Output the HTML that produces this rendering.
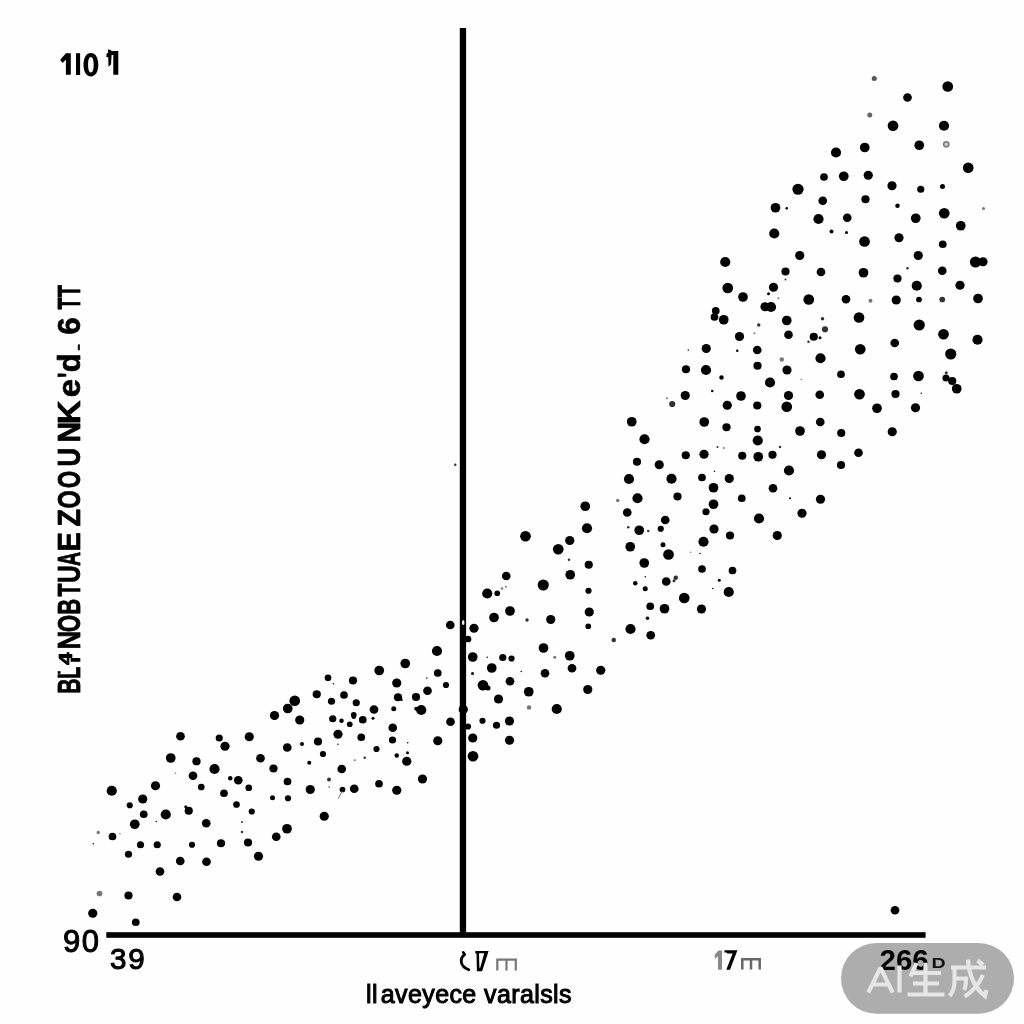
<!DOCTYPE html>
<html><head><meta charset="utf-8"><title>scatter</title>
<style>
html,body{margin:0;padding:0;background:#fefefe;}
body{width:1024px;height:1024px;position:relative;overflow:hidden;font-family:"Liberation Sans",sans-serif;color:#000;}
svg{position:absolute;left:0;top:0;will-change:transform;}
.t{position:absolute;white-space:nowrap;line-height:1;will-change:transform;}
</style></head><body>
<svg width="1024" height="1024" viewBox="0 0 1024 1024">
<rect x="459.8" y="28" width="6.3" height="908" fill="#000"/>
<rect x="106.3" y="932.2" width="819.3" height="5.6" fill="#000"/>
<g fill="#000">
<circle cx="111.75" cy="790.75" r="5.1"/>
<circle cx="155.5" cy="785.75" r="4.6"/>
<circle cx="193.0" cy="775.75" r="4.35"/>
<circle cx="214.5" cy="769.0" r="5.1"/>
<circle cx="201.25" cy="787.0" r="3.35"/>
<circle cx="230.25" cy="778.25" r="2.25"/>
<circle cx="238.25" cy="780.25" r="4.35"/>
<circle cx="248.75" cy="787.75" r="3.35"/>
<circle cx="224.0" cy="793.25" r="3.85"/>
<circle cx="142.75" cy="799.0" r="4.6"/>
<circle cx="129.75" cy="805.25" r="3.1"/>
<circle cx="236.5" cy="804.5" r="3.35"/>
<circle cx="251.75" cy="811.5" r="3.1"/>
<circle cx="143.75" cy="814.25" r="3.85"/>
<circle cx="165.75" cy="814.5" r="5.1"/>
<circle cx="188.75" cy="810.75" r="4.1"/>
<circle cx="185.75" cy="806.75" r="1.5"/>
<circle cx="134.75" cy="824.25" r="4.85"/>
<circle cx="206.25" cy="823.25" r="4.35"/>
<circle cx="112.5" cy="836.5" r="3.85"/>
<circle cx="98.25" cy="832.5" r="1.75" fill="#777"/>
<circle cx="140.5" cy="844.75" r="3.6"/>
<circle cx="157.25" cy="844.75" r="3.6"/>
<circle cx="192.0" cy="844.75" r="3.1"/>
<circle cx="221.0" cy="843.25" r="4.1"/>
<circle cx="248.0" cy="842.5" r="4.1"/>
<circle cx="128.5" cy="854.25" r="3.6"/>
<circle cx="180.25" cy="861.0" r="4.35"/>
<circle cx="206.5" cy="861.75" r="4.35"/>
<circle cx="160.0" cy="871.5" r="4.35"/>
<circle cx="99.5" cy="893.5" r="2.85" fill="#777"/>
<circle cx="128.5" cy="895.5" r="4.1"/>
<circle cx="177.0" cy="897.0" r="4.35"/>
<circle cx="92.75" cy="913.25" r="4.6"/>
<circle cx="135.75" cy="922.25" r="3.85"/>
<circle cx="242.0" cy="822.0" r="1.0" fill="#333"/>
<circle cx="242.0" cy="832.0" r="1.25" fill="#333"/>
<circle cx="93.25" cy="843.75" r="0.75"/>
<circle cx="156.25" cy="821.5" r="0.75"/>
<circle cx="175.5" cy="773.25" r="0.75" fill="#777"/>
<circle cx="120.0" cy="833.75" r="0.75" fill="#777"/>
<circle cx="273.5" cy="768.5" r="4.1"/>
<circle cx="341.75" cy="769.0" r="4.35"/>
<circle cx="287.5" cy="781.5" r="3.85"/>
<circle cx="310.25" cy="789.5" r="4.6"/>
<circle cx="329.0" cy="779.5" r="2.0" fill="#333"/>
<circle cx="342.5" cy="789.5" r="2.85"/>
<circle cx="354.25" cy="788.75" r="4.35"/>
<circle cx="379.0" cy="783.75" r="3.85"/>
<circle cx="396.75" cy="790.25" r="4.6"/>
<circle cx="422.5" cy="779.0" r="4.6"/>
<circle cx="272.5" cy="797.75" r="2.5"/>
<circle cx="288.0" cy="798.25" r="3.1"/>
<circle cx="324.25" cy="816.25" r="4.6"/>
<circle cx="287.0" cy="828.75" r="4.85"/>
<circle cx="276.25" cy="836.75" r="4.35"/>
<circle cx="258.5" cy="856.25" r="4.6"/>
<circle cx="329.25" cy="787.0" r="0.75" fill="#333"/>
<circle cx="895.0" cy="910.25" r="4.35"/>
<circle cx="180.5" cy="736.25" r="4.35"/>
<circle cx="219.25" cy="738.0" r="3.6"/>
<circle cx="225.0" cy="746.25" r="4.6"/>
<circle cx="249.25" cy="736.75" r="4.6"/>
<circle cx="170.75" cy="758.0" r="4.85"/>
<circle cx="196.5" cy="761.25" r="4.1"/>
<circle cx="506.25" cy="576.0" r="4.35"/>
<circle cx="487.25" cy="593.5" r="5.1"/>
<circle cx="497.25" cy="593.25" r="2.85"/>
<circle cx="510.0" cy="611.0" r="4.85"/>
<circle cx="494.0" cy="617.5" r="4.85"/>
<circle cx="450.25" cy="625.0" r="4.35"/>
<circle cx="474.0" cy="628.25" r="4.6"/>
<circle cx="468.0" cy="639.0" r="3.35"/>
<circle cx="437.0" cy="651.0" r="5.1"/>
<circle cx="472.75" cy="657.0" r="4.85"/>
<circle cx="502.75" cy="657.5" r="3.6"/>
<circle cx="511.5" cy="658.5" r="3.1"/>
<circle cx="405.25" cy="663.5" r="4.85"/>
<circle cx="491.75" cy="668.0" r="4.85"/>
<circle cx="379.25" cy="670.5" r="4.85"/>
<circle cx="437.75" cy="673.0" r="3.85"/>
<circle cx="328.0" cy="677.75" r="3.35"/>
<circle cx="353.0" cy="680.5" r="4.1"/>
<circle cx="510.0" cy="681.25" r="4.35"/>
<circle cx="396.75" cy="683.0" r="4.6"/>
<circle cx="446.0" cy="685.0" r="3.1"/>
<circle cx="483.0" cy="685.25" r="5.35"/>
<circle cx="488.0" cy="688.0" r="2.5"/>
<circle cx="427.5" cy="690.75" r="4.35"/>
<circle cx="316.75" cy="694.25" r="4.1"/>
<circle cx="344.0" cy="695.0" r="3.85"/>
<circle cx="398.0" cy="697.25" r="4.1"/>
<circle cx="401.5" cy="699.75" r="1.25"/>
<circle cx="416.0" cy="697.0" r="4.1"/>
<circle cx="498.5" cy="699.0" r="4.6"/>
<circle cx="294.75" cy="700.75" r="5.35"/>
<circle cx="331.5" cy="701.25" r="3.6"/>
<circle cx="356.25" cy="702.75" r="3.6"/>
<circle cx="287.75" cy="708.5" r="4.85"/>
<circle cx="374.0" cy="709.5" r="4.35"/>
<circle cx="393.75" cy="708.75" r="2.5"/>
<circle cx="421.25" cy="710.0" r="5.1"/>
<circle cx="416.25" cy="708.75" r="2.0"/>
<circle cx="463.25" cy="709.5" r="4.6"/>
<circle cx="274.5" cy="715.5" r="4.6"/>
<circle cx="353.75" cy="714.75" r="2.85"/>
<circle cx="353.75" cy="716.75" r="2.25"/>
<circle cx="299.75" cy="720.0" r="4.6"/>
<circle cx="332.75" cy="718.75" r="3.6"/>
<circle cx="341.5" cy="720.75" r="2.25"/>
<circle cx="362.75" cy="719.75" r="3.85"/>
<circle cx="373.0" cy="718.25" r="1.5"/>
<circle cx="349.75" cy="724.25" r="2.85"/>
<circle cx="450.5" cy="721.75" r="4.35"/>
<circle cx="482.5" cy="720.75" r="3.1"/>
<circle cx="509.5" cy="721.0" r="4.6"/>
<circle cx="496.5" cy="725.25" r="3.6"/>
<circle cx="468.0" cy="726.5" r="3.1"/>
<circle cx="392.75" cy="727.75" r="4.35"/>
<circle cx="338.0" cy="734.25" r="4.6"/>
<circle cx="361.25" cy="737.25" r="3.85"/>
<circle cx="472.75" cy="738.0" r="4.6"/>
<circle cx="509.5" cy="740.25" r="4.6"/>
<circle cx="392.5" cy="740.0" r="3.6"/>
<circle cx="437.75" cy="740.75" r="4.6"/>
<circle cx="318.0" cy="741.5" r="4.1"/>
<circle cx="302.0" cy="744.0" r="2.0"/>
<circle cx="287.25" cy="747.5" r="4.35"/>
<circle cx="376.5" cy="749.0" r="3.1"/>
<circle cx="323.0" cy="754.0" r="3.1"/>
<circle cx="396.75" cy="755.5" r="2.25"/>
<circle cx="407.5" cy="752.75" r="1.5"/>
<circle cx="473.0" cy="756.25" r="5.35"/>
<circle cx="260.5" cy="758.25" r="4.35"/>
<circle cx="406.75" cy="761.25" r="4.6"/>
<circle cx="309.25" cy="762.75" r="2.0"/>
<circle cx="333.5" cy="683.75" r="0.75"/>
<circle cx="426.75" cy="678.0" r="0.75"/>
<circle cx="472.5" cy="673.5" r="1.5"/>
<circle cx="487.25" cy="657.25" r="0.75"/>
<circle cx="364.75" cy="757.75" r="1.25" fill="#333"/>
<circle cx="354.75" cy="760.25" r="1.0" fill="#777"/>
<circle cx="338.0" cy="744.25" r="0.75"/>
<circle cx="407.75" cy="742.75" r="0.75"/>
<circle cx="502.0" cy="588.5" r="1.25" fill="#777"/>
<circle cx="506.0" cy="586.75" r="1.0" fill="#777"/>
<circle cx="759.0" cy="518.5" r="5.1"/>
<circle cx="627.25" cy="512.5" r="4.35"/>
<circle cx="706.0" cy="511.75" r="3.6"/>
<circle cx="665.25" cy="520.0" r="4.35"/>
<circle cx="587.0" cy="528.25" r="5.1"/>
<circle cx="639.25" cy="530.25" r="4.85"/>
<circle cx="660.75" cy="528.75" r="3.1"/>
<circle cx="714.0" cy="529.0" r="4.6"/>
<circle cx="730.0" cy="535.5" r="4.1"/>
<circle cx="525.5" cy="536.25" r="5.35"/>
<circle cx="569.75" cy="540.5" r="4.6"/>
<circle cx="703.5" cy="541.75" r="5.1"/>
<circle cx="630.25" cy="546.75" r="4.85"/>
<circle cx="558.25" cy="549.25" r="5.35"/>
<circle cx="663.0" cy="544.75" r="2.5"/>
<circle cx="668.5" cy="554.5" r="5.35"/>
<circle cx="644.25" cy="563.0" r="4.85"/>
<circle cx="588.75" cy="564.75" r="4.1"/>
<circle cx="702.0" cy="569.0" r="3.85"/>
<circle cx="732.5" cy="570.5" r="3.85"/>
<circle cx="570.25" cy="574.75" r="4.85"/>
<circle cx="666.25" cy="581.5" r="4.35"/>
<circle cx="675.75" cy="577.75" r="2.25" fill="#333"/>
<circle cx="674.0" cy="580.75" r="1.5" fill="#333"/>
<circle cx="543.25" cy="585.0" r="5.6"/>
<circle cx="635.25" cy="583.25" r="2.25"/>
<circle cx="645.25" cy="588.75" r="2.5"/>
<circle cx="588.5" cy="590.75" r="3.1"/>
<circle cx="728.75" cy="592.0" r="5.1"/>
<circle cx="719.25" cy="580.25" r="1.5"/>
<circle cx="684.25" cy="598.0" r="5.35"/>
<circle cx="650.25" cy="606.25" r="3.85"/>
<circle cx="664.5" cy="608.75" r="4.85"/>
<circle cx="701.5" cy="609.0" r="4.6"/>
<circle cx="589.25" cy="612.0" r="4.6"/>
<circle cx="550.75" cy="619.5" r="4.6"/>
<circle cx="527.0" cy="620.0" r="1.75" fill="#333"/>
<circle cx="647.5" cy="618.25" r="1.75"/>
<circle cx="588.25" cy="626.25" r="2.85"/>
<circle cx="630.5" cy="629.0" r="5.1"/>
<circle cx="650.75" cy="635.25" r="4.35"/>
<circle cx="613.75" cy="640.0" r="2.25" fill="#333"/>
<circle cx="543.5" cy="648.0" r="4.85"/>
<circle cx="569.75" cy="655.75" r="4.85"/>
<circle cx="554.75" cy="657.25" r="1.5" fill="#777"/>
<circle cx="572.0" cy="668.25" r="4.35"/>
<circle cx="600.75" cy="670.25" r="4.6"/>
<circle cx="545.0" cy="673.25" r="4.35"/>
<circle cx="587.75" cy="689.5" r="4.6"/>
<circle cx="528.75" cy="691.75" r="4.85"/>
<circle cx="556.75" cy="709.0" r="5.1"/>
<circle cx="529.0" cy="707.5" r="2.25" fill="#777"/>
<circle cx="569.0" cy="559.75" r="1.25" fill="#333"/>
<circle cx="628.25" cy="527.25" r="1.25" fill="#333"/>
<circle cx="648.25" cy="531.0" r="1.25" fill="#333"/>
<circle cx="690.75" cy="552.25" r="0.75" fill="#777"/>
<circle cx="700.0" cy="553.5" r="0.75"/>
<circle cx="645.25" cy="576.75" r="0.75"/>
<circle cx="712.75" cy="588.5" r="0.75"/>
<circle cx="521.25" cy="671.5" r="0.75"/>
<circle cx="777.25" cy="535.5" r="4.6"/>
<circle cx="802.0" cy="513.25" r="4.6"/>
<circle cx="455.25" cy="464.75" r="1.25" fill="#333"/>
<circle cx="725.25" cy="262.0" r="5.1"/>
<circle cx="727.75" cy="288.0" r="5.35"/>
<circle cx="743.0" cy="297.0" r="4.85"/>
<circle cx="765.0" cy="306.75" r="4.6"/>
<circle cx="715.75" cy="310.75" r="3.85"/>
<circle cx="714.5" cy="317.0" r="3.85"/>
<circle cx="723.75" cy="319.75" r="4.85"/>
<circle cx="758.75" cy="325.0" r="1.75" fill="#333"/>
<circle cx="739.5" cy="336.5" r="4.6"/>
<circle cx="706.25" cy="348.5" r="4.6"/>
<circle cx="757.25" cy="350.0" r="4.35"/>
<circle cx="737.25" cy="350.75" r="1.25"/>
<circle cx="757.5" cy="365.75" r="4.1"/>
<circle cx="686.0" cy="369.25" r="4.1"/>
<circle cx="706.0" cy="370.0" r="5.1"/>
<circle cx="721.5" cy="377.5" r="2.25"/>
<circle cx="712.25" cy="391.0" r="1.25"/>
<circle cx="685.25" cy="395.5" r="4.6"/>
<circle cx="741.0" cy="396.0" r="4.85"/>
<circle cx="672.25" cy="404.0" r="3.1" fill="#333"/>
<circle cx="667.0" cy="398.25" r="1.0" fill="#777"/>
<circle cx="727.25" cy="405.25" r="4.6"/>
<circle cx="757.25" cy="405.5" r="4.1"/>
<circle cx="704.25" cy="422.0" r="4.85"/>
<circle cx="726.5" cy="427.25" r="4.1"/>
<circle cx="757.5" cy="429.0" r="3.35"/>
<circle cx="644.5" cy="439.25" r="5.1"/>
<circle cx="757.75" cy="440.5" r="5.1"/>
<circle cx="685.75" cy="455.25" r="4.1"/>
<circle cx="704.0" cy="454.25" r="4.6"/>
<circle cx="742.25" cy="455.75" r="4.1"/>
<circle cx="758.25" cy="456.75" r="4.85"/>
<circle cx="659.25" cy="464.75" r="4.6"/>
<circle cx="671.5" cy="478.75" r="5.1"/>
<circle cx="702.0" cy="477.5" r="3.85"/>
<circle cx="729.25" cy="478.5" r="4.6"/>
<circle cx="713.5" cy="487.75" r="4.85"/>
<circle cx="677.5" cy="496.5" r="4.1"/>
<circle cx="741.75" cy="498.25" r="3.85"/>
<circle cx="713.5" cy="504.25" r="4.85"/>
<circle cx="617.75" cy="500.5" r="1.75" fill="#777"/>
<circle cx="717.5" cy="447.0" r="1.0" fill="#333"/>
<circle cx="723.75" cy="448.0" r="1.0" fill="#777"/>
<circle cx="688.25" cy="350.0" r="0.75"/>
<circle cx="754.5" cy="333.25" r="1.0" fill="#777"/>
<circle cx="714.5" cy="471.25" r="0.75"/>
<circle cx="631.75" cy="421.75" r="4.85"/>
<circle cx="637.0" cy="461.75" r="4.1"/>
<circle cx="629.0" cy="479.0" r="5.1"/>
<circle cx="637.5" cy="498.25" r="5.1"/>
<circle cx="585.25" cy="506.25" r="4.85"/>
<circle cx="799.75" cy="255.5" r="4.6"/>
<circle cx="918.25" cy="255.5" r="4.6"/>
<circle cx="975.5" cy="262.0" r="5.6"/>
<circle cx="983.0" cy="261.75" r="4.6"/>
<circle cx="785.5" cy="271.5" r="4.1"/>
<circle cx="821.0" cy="272.0" r="4.35"/>
<circle cx="863.5" cy="272.75" r="4.85"/>
<circle cx="942.25" cy="270.75" r="4.35"/>
<circle cx="897.5" cy="278.5" r="4.1"/>
<circle cx="916.75" cy="285.75" r="5.1"/>
<circle cx="960.0" cy="285.25" r="4.6"/>
<circle cx="773.5" cy="287.25" r="4.6"/>
<circle cx="808.75" cy="299.5" r="5.35"/>
<circle cx="846.0" cy="299.25" r="4.35"/>
<circle cx="896.25" cy="300.0" r="4.6"/>
<circle cx="919.0" cy="299.5" r="2.85"/>
<circle cx="942.25" cy="299.5" r="2.85" fill="#333"/>
<circle cx="978.0" cy="298.5" r="4.85"/>
<circle cx="870.5" cy="300.75" r="2.0" fill="#777"/>
<circle cx="771.0" cy="307.0" r="5.1"/>
<circle cx="786.75" cy="320.5" r="4.85"/>
<circle cx="859.0" cy="317.5" r="5.35"/>
<circle cx="919.25" cy="325.0" r="5.6"/>
<circle cx="822.5" cy="318.75" r="1.75" fill="#333"/>
<circle cx="825.0" cy="329.25" r="3.1" fill="#333"/>
<circle cx="813.75" cy="336.75" r="4.1"/>
<circle cx="820.0" cy="337.75" r="1.5"/>
<circle cx="808.5" cy="341.75" r="1.25" fill="#333"/>
<circle cx="788.5" cy="334.75" r="4.35"/>
<circle cx="943.5" cy="334.25" r="5.35"/>
<circle cx="977.5" cy="339.75" r="5.1"/>
<circle cx="894.75" cy="343.0" r="4.35"/>
<circle cx="860.25" cy="349.25" r="5.35"/>
<circle cx="950.75" cy="354.0" r="5.6"/>
<circle cx="820.5" cy="358.25" r="5.1"/>
<circle cx="781.75" cy="359.5" r="2.25" fill="#777"/>
<circle cx="787.0" cy="370.0" r="4.6"/>
<circle cx="841.0" cy="374.25" r="3.85"/>
<circle cx="894.0" cy="376.5" r="3.85"/>
<circle cx="918.5" cy="376.0" r="5.35"/>
<circle cx="946.0" cy="378.0" r="3.6"/>
<circle cx="952.25" cy="381.0" r="4.1"/>
<circle cx="956.75" cy="388.75" r="4.85"/>
<circle cx="770.0" cy="382.5" r="5.1"/>
<circle cx="788.5" cy="395.5" r="4.6"/>
<circle cx="819.75" cy="394.75" r="4.35"/>
<circle cx="859.5" cy="394.25" r="5.35"/>
<circle cx="895.5" cy="394.0" r="4.1"/>
<circle cx="786.75" cy="406.75" r="5.35"/>
<circle cx="877.0" cy="408.25" r="4.85"/>
<circle cx="915.5" cy="407.75" r="4.6"/>
<circle cx="820.25" cy="422.0" r="4.35"/>
<circle cx="800.0" cy="431.0" r="4.85"/>
<circle cx="841.25" cy="433.0" r="4.1"/>
<circle cx="892.25" cy="431.75" r="4.6"/>
<circle cx="772.5" cy="454.75" r="4.1"/>
<circle cx="821.5" cy="454.75" r="4.6"/>
<circle cx="858.5" cy="452.75" r="4.35"/>
<circle cx="841.0" cy="465.0" r="4.1"/>
<circle cx="789.0" cy="470.5" r="5.1"/>
<circle cx="773.0" cy="488.25" r="4.35"/>
<circle cx="820.5" cy="499.25" r="4.6"/>
<circle cx="780.0" cy="447.0" r="1.25" fill="#333"/>
<circle cx="790.0" cy="498.25" r="1.0"/>
<circle cx="785.5" cy="279.5" r="1.0" fill="#333"/>
<circle cx="778.5" cy="298.25" r="1.0" fill="#777"/>
<circle cx="907.5" cy="268.25" r="1.25" fill="#333"/>
<circle cx="921.25" cy="393.25" r="0.75"/>
<circle cx="801.25" cy="379.5" r="0.75" fill="#777"/>
<circle cx="768.5" cy="293.75" r="1.5"/>
<circle cx="946.25" cy="372.75" r="1.5" fill="#333"/>
<circle cx="874.25" cy="78.5" r="2.5" fill="#555"/>
<circle cx="947.75" cy="86.5" r="5.35"/>
<circle cx="907.5" cy="97.5" r="4.35"/>
<circle cx="869.75" cy="115.0" r="2.5" fill="#666"/>
<circle cx="893.0" cy="125.75" r="5.35"/>
<circle cx="944.0" cy="125.75" r="5.1"/>
<circle cx="919.25" cy="145.25" r="4.85"/>
<circle cx="864.75" cy="147.5" r="4.85"/>
<circle cx="836.0" cy="152.5" r="5.1"/>
<circle cx="968.25" cy="167.75" r="5.35"/>
<circle cx="824.0" cy="177.0" r="3.85"/>
<circle cx="843.75" cy="176.25" r="4.85"/>
<circle cx="868.25" cy="175.25" r="4.6"/>
<circle cx="798.0" cy="189.25" r="5.6"/>
<circle cx="892.0" cy="185.75" r="4.6"/>
<circle cx="920.75" cy="189.25" r="3.6"/>
<circle cx="942.5" cy="186.5" r="2.5"/>
<circle cx="822.75" cy="200.75" r="4.35"/>
<circle cx="865.5" cy="199.25" r="4.1"/>
<circle cx="775.5" cy="207.75" r="4.85"/>
<circle cx="786.75" cy="208.25" r="1.25"/>
<circle cx="897.5" cy="205.75" r="2.25"/>
<circle cx="983.5" cy="208.5" r="1.5" fill="#777"/>
<circle cx="944.25" cy="213.25" r="5.35"/>
<circle cx="818.5" cy="219.0" r="5.1"/>
<circle cx="847.25" cy="217.75" r="4.35"/>
<circle cx="915.75" cy="218.25" r="4.85"/>
<circle cx="960.75" cy="225.75" r="4.85"/>
<circle cx="774.25" cy="233.5" r="5.1"/>
<circle cx="831.5" cy="231.5" r="2.0"/>
<circle cx="846.5" cy="232.5" r="1.5"/>
<circle cx="864.5" cy="241.5" r="5.35"/>
<circle cx="899.0" cy="237.75" r="4.6"/>
<circle cx="942.75" cy="244.25" r="3.85"/>
<circle cx="946.25" cy="144.25" r="2.6" fill="#ccc" stroke="#777" stroke-width="1.5"/>
</g>
<g font-family="Liberation Sans, sans-serif" font-weight="bold" font-size="32" fill="#000" stroke="#000" stroke-width="0.7" stroke-linejoin="round" style="vector-effect:non-scaling-stroke">
<text vector-effect="non-scaling-stroke" transform="translate(80.4 692.4) rotate(-90) scale(0.661 1) translate(-2.13 0)">B</text>
<text vector-effect="non-scaling-stroke" transform="translate(80.4 677.5) rotate(-90) scale(0.615 1) translate(-2.13 0)">L</text>
<text vector-effect="non-scaling-stroke" transform="translate(80.4 647.8) rotate(-90) scale(0.812 1) translate(-2.13 0)">N</text>
<text vector-effect="non-scaling-stroke" transform="translate(80.4 631.4) rotate(-90) scale(0.699 1) translate(-1.07 0)">O</text>
<text vector-effect="non-scaling-stroke" transform="translate(80.4 613.4) rotate(-90) scale(0.691 1) translate(-2.13 0)">B</text>
<text vector-effect="non-scaling-stroke" transform="translate(80.4 596.5) rotate(-90) scale(0.664 1) translate(-0.00 0)">T</text>
<text vector-effect="non-scaling-stroke" transform="translate(80.4 582.2) rotate(-90) scale(0.770 1) translate(-1.07 0)">U</text>
<text vector-effect="non-scaling-stroke" transform="translate(80.4 566) rotate(-90) scale(0.603 1) translate(-0.00 0)">A</text>
<text vector-effect="non-scaling-stroke" transform="translate(80.4 549.5) rotate(-90) scale(0.910 1) translate(-2.13 0)">E</text>
<text vector-effect="non-scaling-stroke" transform="translate(80.4 526.6) rotate(-90) scale(0.896 1) translate(-0.00 0)">Z</text>
<text vector-effect="non-scaling-stroke" transform="translate(80.4 507.8) rotate(-90) scale(0.733 1) translate(-1.07 0)">O</text>
<text vector-effect="non-scaling-stroke" transform="translate(80.4 487.5) rotate(-90) scale(0.703 1) translate(-1.07 0)">O</text>
<text vector-effect="non-scaling-stroke" transform="translate(80.4 465.6) rotate(-90) scale(0.809 1) translate(-1.07 0)">U</text>
<text vector-effect="non-scaling-stroke" transform="translate(80.4 440.6) rotate(-90) scale(0.896 1) translate(-2.13 0)">N</text>
<text vector-effect="non-scaling-stroke" transform="translate(80.4 422) rotate(-90) scale(1.031 1) translate(-2.13 0)">K</text>
<text vector-effect="non-scaling-stroke" transform="translate(80.4 396.2) rotate(-90) scale(1.025 1) translate(-1.07 0)">e</text>
<text vector-effect="non-scaling-stroke" transform="translate(80.4 377) rotate(-90) scale(0.656 1) translate(-1.07 0)">&#39;</text>
<text vector-effect="non-scaling-stroke" transform="translate(80.4 371.2) rotate(-90) scale(0.961 1) translate(-1.07 0)">d</text>
<text vector-effect="non-scaling-stroke" transform="translate(80.4 333.7) rotate(-90) scale(0.981 1) translate(-1.07 0)">6</text>
<text vector-effect="non-scaling-stroke" transform="translate(80.4 309.5) rotate(-90) scale(0.609 1) translate(-0.00 0)">T</text>
<text vector-effect="non-scaling-stroke" transform="translate(80.4 297.3) rotate(-90) scale(0.625 1) translate(-0.00 0)">T</text>
<rect x="78.2" y="344.7" width="1.3" height="5.3"/>
<text font-size="19" transform="translate(71.5 665) rotate(-90) scale(1.2 1)">4</text>
<text font-size="12" transform="translate(80 662.5) rotate(-90) scale(1.6 1)">i</text>
<rect x="58" y="671.5" width="2.2" height="2"/>
</g>
<ellipse cx="463.2" cy="622.5" rx="1.3" ry="2.6" fill="#eee"/>
<path d="M342.300 791L338.200 798.600" stroke="#666" stroke-width="0.900" fill="none"/>
<!-- top-left label 110 1 -->
<g fill="#000">
<path d="M65.9 53.2h4.9v21.6h-4.9v-15.3l-3.2 3.4-2.6-2.9z"/>
<rect x="76" y="53.2" width="4.1" height="21.8"/>
<path fill-rule="evenodd" d="M90.9 53c4.6 0 7.4 4.6 7.4 11.7s-2.8 11.7-7.4 11.7-7.4-4.6-7.4-11.7 2.800-11.700 7.400-11.700zM90.900 57c-1.800 0-2.800 2.900-2.800 7.700s1 7.700 2.800 7.700 2.800-2.900 2.800-7.700-1-7.700-2.800-7.700z"/>
<path d="M107.800 49.500l2.600 0.300 1.200 1.300h6.700v23.700h-5v-19.800h-1.700l-0.600 9.500-2.500 2.300-0.300-9.800-1.900 0.200 0.300-3.800 1.600-0.300z"/>
</g>
</svg>
<div class="t" id="n90" style="left:63.4px;top:926.2px;font-size:31px;-webkit-text-stroke:1px #000;letter-spacing:1.4px;">90</div>
<div class="t" id="n39" style="left:109.8px;top:944.4px;font-size:29.6px;-webkit-text-stroke:1px #000;letter-spacing:1.9px;">39</div>
<div class="t" id="xl" style="left:366px;top:982px;font-size:25px;-webkit-text-stroke:1px #000;letter-spacing:0.4px;">ll<span style="margin-left:2.8px">aveyece</span> varalsls</div>
<svg width="1024" height="1024" viewBox="0 0 1024 1024">
<!-- l7 -->
<path d="M463.300 952.500L464.700 954.700C461.800 956.700 460.800 959.400 461.400 962.400S465 968.200 468.800 969.700" fill="none" stroke="#000" stroke-width="2.800" stroke-linecap="round" stroke-linejoin="round"/>
<path fill-rule="evenodd" d="M475.300 950.900H488.600L482.100 971.200H476.900L476.500 953.500H475.300zM479 953.200L479.400 967.800H480.200L484.200 953.200z" fill="#000"/>
<path d="M497.300 970.500V959.700H506.500V970.500M506.500 959.700H515.800V970.500" fill="none" stroke="#777" stroke-width="2.200"/>
<!-- 17 -->
<path d="M718.500 950.500h3.500v19.300h-4v-13.500l-3 2.500-0.300-4z" fill="#888"/>
<path d="M724.500 950.200H737.400L730 969.800H726.300L732.600 953.500H727.500L726 952.300L724.500 952.700Z" fill="#000"/>
<path d="M742.300 969.600V959.200H751V969.600M751 959.200H759.700V969.600" fill="none" stroke="#686868" stroke-width="2.500"/>
<!-- watermark -->
<rect x="841" y="943" width="173" height="70.800" rx="35.400" fill="#999" fill-opacity="0.800"/>
<text x="879.5" y="970" font-family="Liberation Sans, sans-serif" font-weight="bold" font-size="29.5" fill="#000">266</text>
<text transform="translate(931.5 968.300) scale(1.350 1)" font-family="Liberation Sans, sans-serif" font-weight="bold" font-size="14.500" fill="#111">D</text>
<g fill="none" stroke="#e6e6e6" stroke-width="4.200" stroke-linecap="butt" stroke-linejoin="miter">
<path d="M868.300 992.700L880.500 967.700L892.700 992.700M873 984.500h15" stroke-linejoin="bevel"/>
<path d="M899.500 965.500v27"/>
<!-- sheng -->
<path d="M916.500 963l-6 13.500M912 973h29M925.500 962.700v31M913 983.500h26M907.500 994.500h37"/>
<!-- cheng -->
<path d="M951 967.500h35M954.500 967.500v14c0 6-1.500 10.500-5 14.500M954.500 978.500h11.500c0 6-0.500 9-2 11.500M968 959.500c1 14 6 28 17 36.500l1.500-6M983 975c-4 9-10 16.500-18.500 21.500M977.500 960.500l5.500 4.500"/>
</g>
</svg>
</body></html>
